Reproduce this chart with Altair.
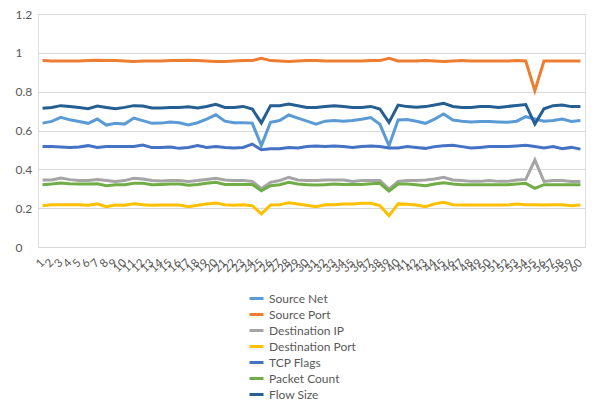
import altair as alt
import pandas as pd

x_labels = [str(i) for i in range(1, 61)]

series_names = ["Source Net", "Source Port", "Destination IP", "Destination Port",
                "TCP Flags", "Packet Count", "Flow Size"]
series_colors = ["#5B9BD5", "#ED7D31", "#A5A5A5", "#FFC000", "#4472C4", "#70AD47", "#255E91"]

source_net = [0.638, 0.647, 0.668, 0.655, 0.646, 0.637, 0.659, 0.628, 0.637, 0.633,
              0.664, 0.651, 0.637, 0.638, 0.644, 0.640, 0.628, 0.640, 0.659, 0.681,
              0.648, 0.640, 0.640, 0.638, 0.522, 0.642, 0.651, 0.680, 0.664, 0.648,
              0.633, 0.648, 0.651, 0.648, 0.651, 0.658, 0.667, 0.632, 0.522, 0.654,
              0.657, 0.648, 0.637, 0.659, 0.685, 0.654, 0.648, 0.644, 0.646, 0.646,
              0.644, 0.642, 0.648, 0.671, 0.659, 0.648, 0.651, 0.659, 0.646, 0.651]

source_port = [0.960, 0.958, 0.958, 0.958, 0.958, 0.960, 0.962, 0.960, 0.960, 0.958,
               0.956, 0.958, 0.958, 0.958, 0.960, 0.960, 0.962, 0.960, 0.958, 0.956,
               0.956, 0.958, 0.960, 0.960, 0.972, 0.960, 0.958, 0.956, 0.958, 0.960,
               0.960, 0.958, 0.958, 0.958, 0.958, 0.958, 0.960, 0.960, 0.972, 0.958,
               0.958, 0.958, 0.960, 0.958, 0.956, 0.958, 0.960, 0.958, 0.958, 0.958,
               0.958, 0.958, 0.960, 0.958, 0.805, 0.958, 0.958, 0.958, 0.958, 0.958]

destination_ip = [0.345, 0.345, 0.355, 0.347, 0.342, 0.342, 0.347, 0.342, 0.338, 0.342,
                  0.354, 0.350, 0.342, 0.340, 0.342, 0.342, 0.338, 0.342, 0.348, 0.354,
                  0.345, 0.342, 0.342, 0.338, 0.300, 0.333, 0.342, 0.359, 0.345, 0.342,
                  0.342, 0.345, 0.345, 0.345, 0.338, 0.342, 0.342, 0.342, 0.298, 0.338,
                  0.342, 0.342, 0.345, 0.350, 0.359, 0.345, 0.342, 0.338, 0.338, 0.342,
                  0.338, 0.338, 0.345, 0.348, 0.448, 0.338, 0.342, 0.342, 0.337, 0.337]

destination_port = [0.213, 0.218, 0.218, 0.218, 0.218, 0.215, 0.222, 0.208, 0.216, 0.215,
                     0.223, 0.218, 0.215, 0.216, 0.216, 0.216, 0.208, 0.215, 0.222, 0.227,
                     0.218, 0.215, 0.218, 0.213, 0.170, 0.216, 0.218, 0.228, 0.222, 0.215,
                     0.208, 0.218, 0.218, 0.222, 0.222, 0.225, 0.225, 0.213, 0.161, 0.222,
                     0.220, 0.216, 0.208, 0.222, 0.230, 0.218, 0.216, 0.216, 0.216, 0.216,
                     0.216, 0.216, 0.222, 0.218, 0.218, 0.216, 0.218, 0.218, 0.213, 0.216]

tcp_flags = [0.517, 0.517, 0.515, 0.512, 0.515, 0.522, 0.512, 0.518, 0.518, 0.518,
             0.518, 0.525, 0.512, 0.512, 0.515, 0.508, 0.512, 0.522, 0.512, 0.518,
             0.513, 0.510, 0.513, 0.530, 0.501, 0.506, 0.506, 0.513, 0.510, 0.517,
             0.520, 0.517, 0.520, 0.517, 0.513, 0.517, 0.520, 0.517, 0.510, 0.510,
             0.517, 0.513, 0.508, 0.517, 0.522, 0.524, 0.517, 0.510, 0.513, 0.517,
             0.518, 0.517, 0.520, 0.524, 0.518, 0.510, 0.517, 0.506, 0.513, 0.504]

packet_count = [0.321, 0.324, 0.330, 0.326, 0.324, 0.324, 0.326, 0.316, 0.321, 0.321,
                0.328, 0.328, 0.321, 0.322, 0.324, 0.324, 0.318, 0.322, 0.328, 0.333,
                0.322, 0.322, 0.322, 0.322, 0.290, 0.316, 0.321, 0.333, 0.324, 0.321,
                0.319, 0.321, 0.324, 0.322, 0.322, 0.322, 0.326, 0.328, 0.288, 0.324,
                0.324, 0.321, 0.316, 0.324, 0.331, 0.324, 0.321, 0.321, 0.321, 0.321,
                0.321, 0.321, 0.324, 0.328, 0.302, 0.321, 0.321, 0.321, 0.321, 0.321]

flow_size = [0.714, 0.719, 0.728, 0.724, 0.719, 0.712, 0.726, 0.719, 0.712, 0.719,
             0.728, 0.726, 0.716, 0.716, 0.719, 0.719, 0.722, 0.716, 0.724, 0.735,
             0.719, 0.719, 0.724, 0.711, 0.639, 0.728, 0.728, 0.736, 0.728, 0.719,
             0.719, 0.724, 0.728, 0.724, 0.719, 0.719, 0.724, 0.711, 0.642, 0.731,
             0.723, 0.720, 0.723, 0.731, 0.740, 0.724, 0.719, 0.719, 0.723, 0.724,
             0.719, 0.724, 0.729, 0.734, 0.633, 0.712, 0.728, 0.731, 0.723, 0.723]

y_ticks = [0, 0.2, 0.4, 0.6, 0.8, 1, 1.2]

all_series = [source_net, source_port, destination_ip, destination_port,
              tcp_flags, packet_count, flow_size]

rows = []
for name, vals in zip(series_names, all_series):
    for lab, v in zip(x_labels, vals):
        rows.append({"idx": lab, "series": name, "value": v})
df = pd.DataFrame(rows)

FONT = "Lato"
TEXT = "#595959"
GRID = "#D9D9D9"

chart = alt.Chart(df).mark_line(strokeWidth=3).encode(
    x=alt.X("idx:O", sort=x_labels, scale=alt.Scale(padding=0.5),
            axis=alt.Axis(title=None, labelAngle=-45, labelAlign="right",
                          labelBaseline="middle", labelOverlap=False,
                          ticks=False, domainColor=GRID, grid=False,
                          labelFontSize=11.5, labelColor=TEXT, labelPadding=14,
                          labelFont=FONT)),
    y=alt.Y("value:Q", scale=alt.Scale(domain=[0, 1.2], nice=False),
            axis=alt.Axis(title=None, values=y_ticks, format="~g",
                          domain=False, ticks=False, gridColor=GRID,
                          labelAlign="left", labelPadding=23,
                          labelFontSize=12, labelColor=TEXT, labelFont=FONT)),
    color=alt.Color("series:N", sort=series_names,
                    scale=alt.Scale(domain=series_names, range=series_colors),
                    legend=alt.Legend(title=None, orient="none", legendX=210,
                                      legendY=276, direction="vertical",
                                      symbolType="stroke", symbolStrokeWidth=3,
                                      symbolSize=196, labelFontSize=12,
                                      labelColor=TEXT, labelFont=FONT,
                                      rowPadding=1, labelOffset=4)),
).properties(
    width=547, height=233,
    padding={"left": 7, "top": 0, "right": 0, "bottom": 0},
).configure_view(stroke=None).configure(background="white")

chart.save("out.html", embed_options={"renderer": "svg", "actions": False})
